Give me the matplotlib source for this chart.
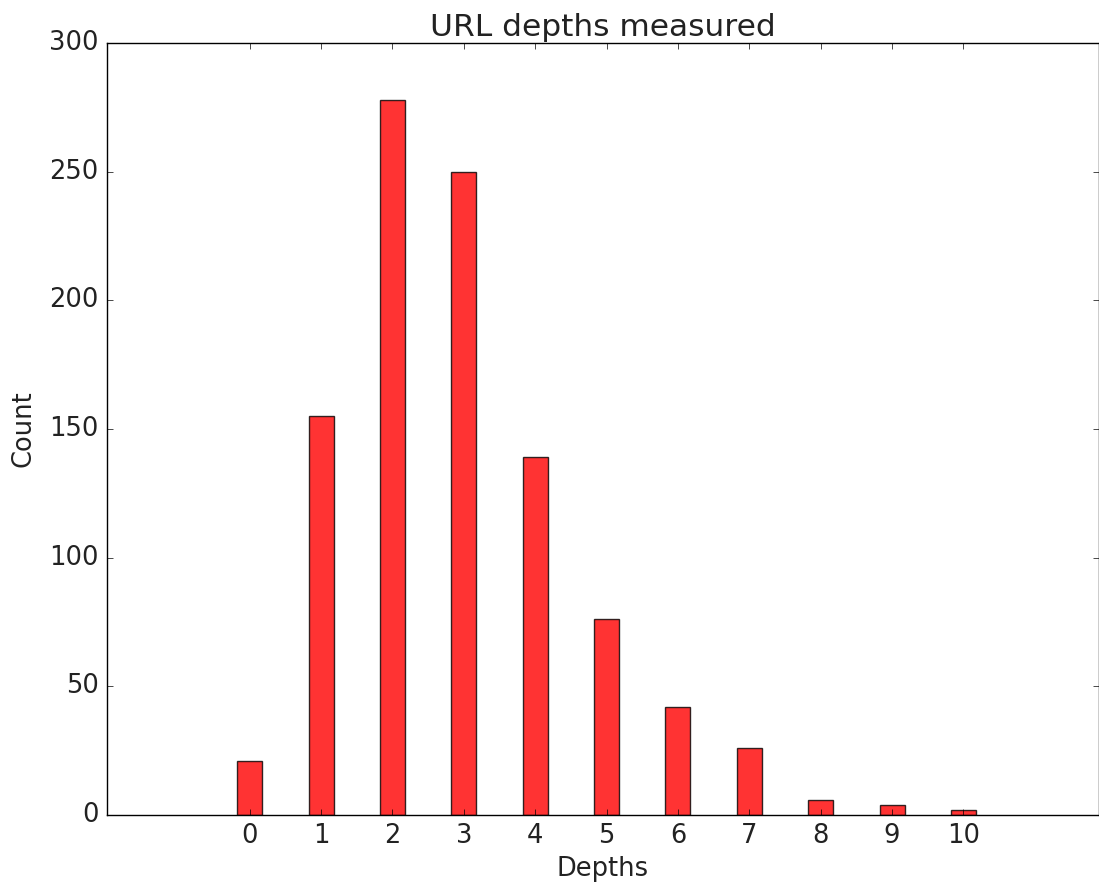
import matplotlib
matplotlib.use('Agg')
import matplotlib.pyplot as plt
import numpy as np

plt.style.use('classic')

# Данные
depths = [0, 1, 2, 3, 4, 5, 6, 7, 8, 9, 10]
counts = [21, 155, 278, 250, 139, 76, 42, 26, 6, 4, 2]

fig = plt.figure(figsize=(10.99, 8.86), dpi=100, facecolor='white')
ax = fig.add_axes([0.0974, 0.0801, 0.9026, 0.8714])

ax.bar(depths, counts, width=0.35, align='center', color='red', alpha=0.8,
       edgecolor='black', linewidth=1)

ax.set_xlim(-2, 11.9)
ax.set_ylim(0, 300)
ax.set_xticks(depths)
ax.set_xticklabels([str(d) for d in depths])
ax.tick_params(labelsize=18.5, pad=6, labelcolor='#222222')

ax.set_xlabel('Depths', fontsize=18.5, labelpad=5, color='#222222')
ax.set_ylabel('Count', fontsize=18.5, labelpad=9, color='#222222')
ax.set_title('URL depths measured', fontsize=22.5, color='#222222')

fig.savefig('out.png', dpi=100, facecolor='white')
